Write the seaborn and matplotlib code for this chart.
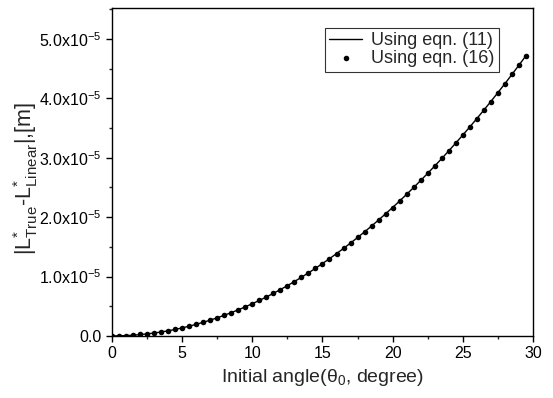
import numpy as np
import pandas as pd
import seaborn as sns
import matplotlib.pyplot as plt
from matplotlib.ticker import FuncFormatter, MultipleLocator

sns.set_style('ticks')
plt.rcParams['font.family'] = ['Liberation Sans', 'DejaVu Sans']
plt.rcParams['mathtext.fontset'] = 'custom'
plt.rcParams['mathtext.rm'] = 'Liberation Sans'
plt.rcParams['mathtext.it'] = 'Liberation Sans'
plt.rcParams['mathtext.default'] = 'regular'

# initial angle (degree)
angle = [0.0, 0.5, 1.0, 1.5, 2.0, 2.5, 3.0, 3.5, 4.0, 4.5,
         5.0, 5.5, 6.0, 6.5, 7.0, 7.5, 8.0, 8.5, 9.0, 9.5,
         10.0, 10.5, 11.0, 11.5, 12.0, 12.5, 13.0, 13.5, 14.0, 14.5,
         15.0, 15.5, 16.0, 16.5, 17.0, 17.5, 18.0, 18.5, 19.0, 19.5,
         20.0, 20.5, 21.0, 21.5, 22.0, 22.5, 23.0, 23.5, 24.0, 24.5,
         25.0, 25.5, 26.0, 26.5, 27.0, 27.5, 28.0, 28.5, 29.0, 29.5]

# |L*_true - L*_linear| in units of 1e-5 m
err_eq11 = [0.000, 0.001, 0.005, 0.012, 0.022, 0.034, 0.049, 0.066, 0.086, 0.109,
            0.135, 0.163, 0.195, 0.229, 0.265, 0.305, 0.347, 0.392, 0.439, 0.489,
            0.542, 0.597, 0.655, 0.716, 0.780, 0.846, 0.915, 0.987, 1.061, 1.138,
            1.218, 1.300, 1.385, 1.473, 1.563, 1.656, 1.752, 1.850, 1.952, 2.056,
            2.162, 2.272, 2.384, 2.499, 2.617, 2.737, 2.860, 2.986, 3.115, 3.247,
            3.381, 3.518, 3.658, 3.801, 3.946, 4.095, 4.246, 4.400, 4.557, 4.717]
err_eq16 = [0.000, 0.002, 0.006, 0.011, 0.024, 0.032, 0.050, 0.067, 0.085, 0.110,
            0.136, 0.162, 0.196, 0.230, 0.264, 0.306, 0.346, 0.393, 0.438, 0.490,
            0.541, 0.598, 0.654, 0.717, 0.779, 0.847, 0.914, 0.988, 1.060, 1.139,
            1.217, 1.301, 1.384, 1.474, 1.562, 1.657, 1.751, 1.851, 1.951, 2.057,
            2.161, 2.273, 2.383, 2.500, 2.616, 2.738, 2.859, 2.987, 3.114, 3.248,
            3.380, 3.519, 3.657, 3.802, 3.945, 4.096, 4.245, 4.401, 4.556, 4.718]

df = pd.DataFrame({'angle': angle,
                   'eq11': np.array(err_eq11) * 1e-5,
                   'eq16': np.array(err_eq16) * 1e-5})

fig = plt.figure(figsize=(5.53, 3.98), dpi=100)
ax = fig.add_axes([0.2025, 0.156, 0.7613, 0.824])

sns.lineplot(data=df, x='angle', y='eq11', color='black', linewidth=1.0,
             ax=ax, label='Using eqn. (11)')
sns.scatterplot(data=df, x='angle', y='eq16', color='black', s=16,
                edgecolor='black', linewidth=0, ax=ax, label='Using eqn. (16)',
                zorder=3)

ax.set_xlim(0, 30)
ax.set_ylim(0, 5.52e-5)
ax.xaxis.set_major_locator(MultipleLocator(5))
ax.xaxis.set_minor_locator(MultipleLocator(2.5))
ax.yaxis.set_major_locator(MultipleLocator(1e-5))
ax.yaxis.set_minor_locator(MultipleLocator(0.5e-5))


def fmt(v, pos):
    m = v / 1e-5
    if abs(m) < 1e-9:
        return '0.0'
    return r'$%.1f\mathrm{x}10^{-5}$' % m


ax.yaxis.set_major_formatter(FuncFormatter(fmt))
ax.tick_params(axis='both', which='major', direction='out', length=4,
               width=1, labelsize=11.5, colors='black')
ax.tick_params(axis='both', which='minor', direction='out', length=2.5, width=1)
for sp in ax.spines.values():
    sp.set_visible(True)
    sp.set_color('black')
    sp.set_linewidth(1.0)

ax.set_xlabel(r'Initial angle($\theta_0$, degree)', fontsize=14)
ax.set_ylabel(r'|L$^{*}_{True}$-L$^{*}_{Linear}$|,[m]', fontsize=15.5)
ax.yaxis.set_label_coords(-0.17, 0.48)

leg = ax.legend(loc='upper right', bbox_to_anchor=(0.94, 0.967), fontsize=13,
                frameon=True, fancybox=False, edgecolor='black',
                handlelength=1.8, borderpad=0.25, labelspacing=0.05,
                handletextpad=0.5, markerscale=1.0)
leg.get_frame().set_linewidth(0.8)

fig.savefig('out.png', dpi=100)
